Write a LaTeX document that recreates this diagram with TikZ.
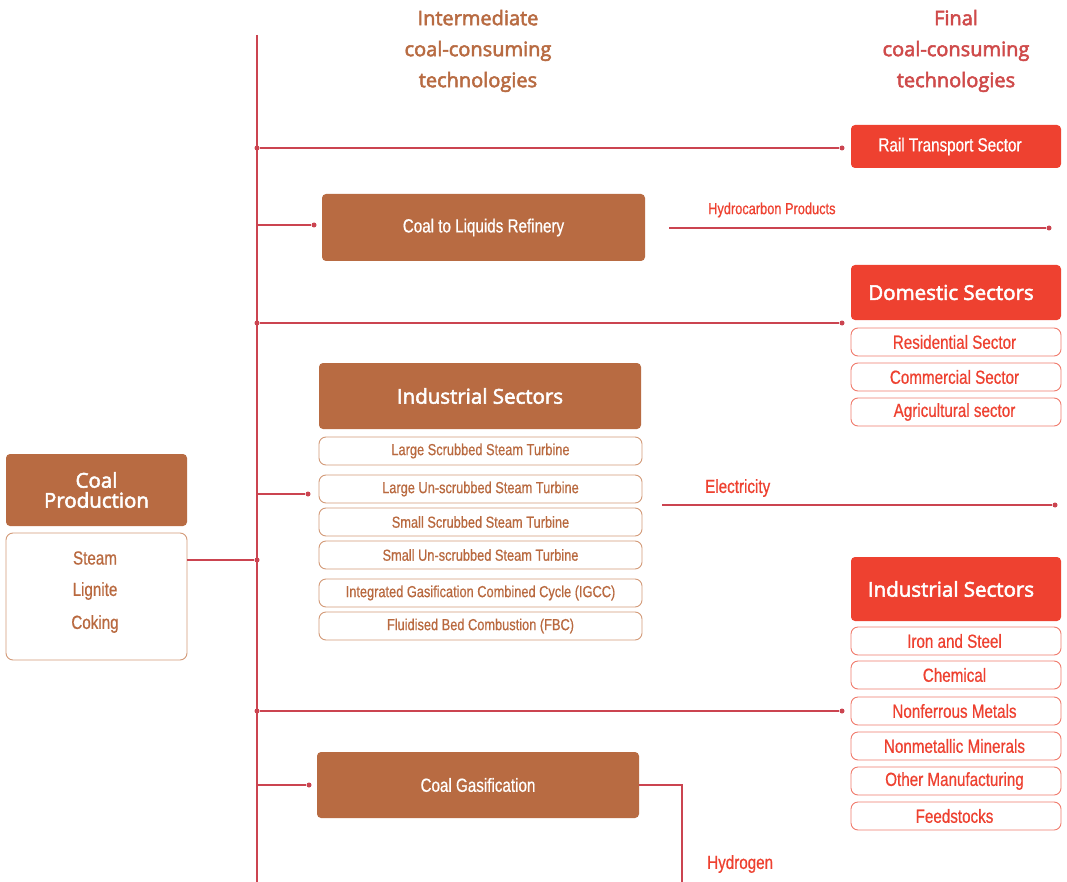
\documentclass[tikz,border=0pt]{standalone}
\usepackage{fontspec}
\setmainfont{Open Sans}
\newfontfamily\cfont[FakeStretch=0.80,FakeBold=0.6]{Liberation Sans}
\newfontfamily\hfont[FakeBold=2.6]{Open Sans}
\definecolor{cbrown}{HTML}{B86B42}
\definecolor{cbrownl}{HTML}{D39A78}
\definecolor{cbrownt}{HTML}{B9693F}
\definecolor{cred}{HTML}{EE4130}
\definecolor{credl}{HTML}{F07A6C}
\definecolor{cline}{HTML}{CB4450}
\definecolor{cfinal}{HTML}{CF4A4A}
\tikzset{
  bfill/.style={fill=cbrown, rounded corners=4pt, inner sep=0pt, outer sep=0pt, text=white, align=center},
  bout/.style={draw=cbrownl, line width=0.9pt, rounded corners=7pt, inner sep=0pt, outer sep=0pt, text=cbrownt, align=center, fill=white},
  rfill/.style={fill=cred, rounded corners=4pt, inner sep=0pt, outer sep=0pt, text=white, align=center},
  rout/.style={draw=credl, line width=0.9pt, rounded corners=7pt, inner sep=0pt, outer sep=0pt, text=cred, align=center, fill=white},
  conn/.style={draw=cline, line width=1.2pt},
  jdot/.style={circle, fill=cline, inner sep=0pt, minimum size=5pt},
  hdr/.style={align=center, font=\hfont\fontsize{20}{31}\selectfont},
  lbl/.style={anchor=west, inner sep=0pt, text=cred},
  bigt/.style={font=\hfont\fontsize{20.5}{20}\selectfont},
  midt/.style={font=\cfont\fontsize{19}{19}\selectfont},
  smlt/.style={font=\cfont\fontsize{16}{16}\selectfont},
}
\begin{document}
\begin{tikzpicture}[x=1pt, y=-1pt]
\useasboundingbox[fill=white] (0,0) rectangle (1067,882);

% headers
\node[hdr, text=cbrown] (h1) at (478,51) {Intermediate\\coal-consuming\\technologies};
\node[hdr, text=cfinal] (h2) at (956,51) {Final\\coal-consuming\\technologies};

% trunk
\coordinate (ttop) at (257,35);
\coordinate (tbot) at (257,882);
\draw[conn] (ttop) -- (tbot);

% coal production
\node[bfill, minimum width=181pt, minimum height=72pt, font=\hfont\fontsize{20.5}{20}\selectfont] (cp) at (96.5,490) {Coal\\Production};
\node[bout, minimum width=181pt, minimum height=127pt] (types) at (96.5,596.5) {};
\node[text=cbrownt, midt] (steam) at (95,558) {Steam};
\node[text=cbrownt, midt] (lig) at (95,591) {Lignite};
\node[text=cbrownt, midt] (cok) at (95,624) {Coking};
\coordinate (tout) at (187,560);
\node[jdot] (jcp) at (257,560) {};
\draw[conn] (tout) -- (jcp);

% rail
\node[rfill, minimum width=210pt, minimum height=43pt, midt] (rail) at (956,146.5) {Rail Transport Sector\kern12pt};
\node[jdot] (jr) at (257,148) {};
\node[jdot] (dr) at (842,148) {};
\draw[conn] (jr) -- (dr);

% coal to liquids
\node[bfill, minimum width=323pt, minimum height=67pt, midt] (ctl) at (483.5,227.5) {Coal to Liquids Refinery};
\coordinate (jctl) at (257,225);
\node[jdot] (dctl) at (314,225) {};
\draw[conn] (jctl) -- (dctl);
\coordinate (hcs) at (669,228);
\node[jdot] (hce) at (1049,228) {};
\draw[conn] (hcs) -- (hce);
\node[lbl, font=\cfont\fontsize{16}{16}\selectfont] (hcl) at (708,210) {Hydrocarbon Products};

% domestic
\node[rfill, minimum width=210pt, minimum height=55pt, bigt] (dom) at (956,292.5) {Domestic Sectors\kern10pt};
\node[rout, minimum width=210pt, minimum height=28pt, midt] (res) at (956,342) {Residential Sector\kern3pt};
\node[rout, minimum width=210pt, minimum height=28pt, midt] (com) at (956,377) {Commercial Sector\kern3pt};
\node[rout, minimum width=210pt, minimum height=28pt, midt] (agr) at (956,412) {Agricultural sector\kern3pt};
\node[jdot] (jd) at (257,323) {};
\node[jdot] (dd) at (842,323) {};
\draw[conn] (jd) -- (dd);

% industrial (intermediate)
\node[bfill, minimum width=322pt, minimum height=66pt, bigt] (indb) at (480,396) {Industrial Sectors};
\node[bout, minimum width=323pt, minimum height=28pt, smlt] (s1) at (480.5,451) {Large Scrubbed Steam Turbine};
\node[bout, minimum width=323pt, minimum height=28pt, smlt] (s2) at (480.5,489) {Large Un-scrubbed Steam Turbine};
\node[bout, minimum width=323pt, minimum height=28pt, smlt] (s3) at (480.5,522) {Small Scrubbed Steam Turbine};
\node[bout, minimum width=323pt, minimum height=28pt, smlt] (s4) at (480.5,555) {Small Un-scrubbed Steam Turbine};
\node[bout, minimum width=323pt, minimum height=28pt, smlt] (s5) at (480.5,593) {Integrated Gasification Combined Cycle (IGCC)};
\node[bout, minimum width=323pt, minimum height=28pt, smlt] (s6) at (480.5,626) {Fluidised Bed Combustion (FBC)};
\coordinate (jib) at (257,494);
\node[jdot] (dib) at (308,494) {};
\draw[conn] (jib) -- (dib);
\coordinate (els) at (662,505);
\node[jdot] (ele) at (1055,505) {};
\draw[conn] (els) -- (ele);
\node[lbl, midt] (ell) at (705,488) {Electricity};

% industrial (final)
\node[rfill, minimum width=210pt, minimum height=64pt, bigt] (indr) at (956,589) {Industrial Sectors\kern10pt};
\node[rout, minimum width=210pt, minimum height=28pt, midt] (r1) at (956,641) {Iron and Steel\kern3pt};
\node[rout, minimum width=210pt, minimum height=28pt, midt] (r2) at (956,675) {Chemical\kern3pt};
\node[rout, minimum width=210pt, minimum height=28pt, midt] (r3) at (956,711) {Nonferrous Metals\kern3pt};
\node[rout, minimum width=210pt, minimum height=28pt, midt] (r4) at (956,746) {Nonmetallic Minerals\kern3pt};
\node[rout, minimum width=210pt, minimum height=28pt, midt] (r5) at (956,781) {Other Manufacturing\kern3pt};
\node[rout, minimum width=210pt, minimum height=28pt, midt] (r6) at (956,816) {Feedstocks\kern3pt};
\node[jdot] (ji) at (257,711) {};
\node[jdot] (di) at (842,711) {};
\draw[conn] (ji) -- (di);

% coal gasification
\node[bfill, minimum width=322pt, minimum height=66pt, midt] (gas) at (478,785) {Coal Gasification};
\coordinate (jg) at (257,785);
\node[jdot] (dg) at (309,785) {};
\draw[conn] (jg) -- (dg);
\coordinate (hbot) at (682,882);
\draw[conn] (gas.east |- 0,785) -| (hbot);
\node[lbl, midt] (hyl) at (707,864) {Hydrogen};
\node[jdot] (hye) at (1052,885) {};
\end{tikzpicture}
\end{document}
